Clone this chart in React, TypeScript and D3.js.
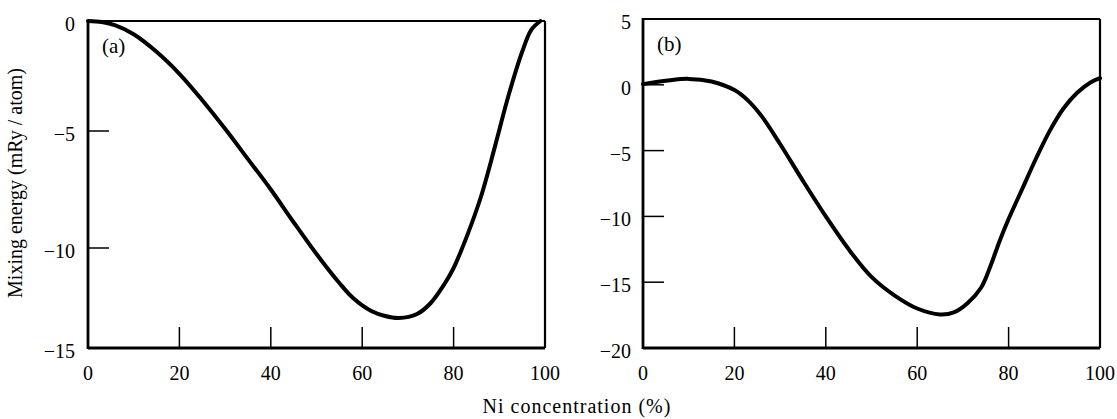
import React from "react";
import * as d3 from "d3";

// Panel (a)
const concA = [0, 3, 6, 10, 15, 20, 25, 30, 35, 40, 45, 50, 55, 58, 62, 65, 68, 72, 75, 78, 80, 83, 86, 89, 92, 95, 97, 99];
const energyA = [0, -0.05, -0.2, -0.6, -1.4, -2.4, -3.6, -4.9, -6.2, -7.5, -8.9, -10.3, -11.75, -12.5, -13.15, -13.4, -13.5, -13.3, -12.75, -11.8, -11.0, -9.45, -7.8, -5.7, -3.4, -1.4, -0.4, 0];

// Panel (b)
const concB = [0, 5, 10, 15, 20, 23, 26, 30, 35, 40, 45, 50, 55, 60, 65, 68, 71, 74, 76, 78, 80, 83, 86, 89, 92, 95, 98, 100];
const energyB = [0.05, 0.3, 0.45, 0.25, -0.4, -1.2, -2.4, -4.5, -7.3, -10.0, -12.5, -14.6, -16.0, -17.0, -17.45, -17.3, -16.6, -15.4, -13.8, -11.9, -10.2, -7.9, -5.6, -3.5, -1.8, -0.6, 0.2, 0.5];

const xTicks = [0, 20, 40, 60, 80, 100];
const yTicksA = [0, -5, -10, -15];
const yTicksB = [5, 0, -5, -10, -15, -20];

const FONT = "'Liberation Serif', 'Times New Roman', serif";

type PanelProps = {
  xs: number[];
  ys: number[];
  x0: number;
  x1: number;
  yScale: d3.ScaleLinear<number, number>;
  yTicks: number[];
  innerYTicks: number[];
  label: string;
  labelX: number;
  labelY: number;
  labelGap: number;
};

function Panel({ xs, ys, x0, x1, yScale, yTicks, innerYTicks, label, labelX, labelY, labelGap }: PanelProps) {
  const x = d3.scaleLinear().domain([0, 100]).range([x0, x1]);
  const dom = yScale.domain();
  const yBottom = yScale(dom[0]);
  const yTop = yScale(dom[dom.length - 1]);
  const pts: [number, number][] = xs.map((v, i) => [v, ys[i]]);
  const line = d3
    .line<[number, number]>()
    .x((d) => x(d[0]))
    .y((d) => yScale(d[1]))
    .curve(d3.curveCatmullRom.alpha(0.5));
  const tickLen = 21;
  return (
    <g>
      <line x1={x0} x2={x1} y1={yTop} y2={yTop} stroke="#000" strokeWidth={2.2} />
      <line x1={x1} x2={x1} y1={yTop} y2={yBottom} stroke="#000" strokeWidth={2.2} />
      <line x1={x0} x2={x1} y1={yBottom} y2={yBottom} stroke="#000" strokeWidth={2.8} />
      <line x1={x0} x2={x0} y1={yTop - 1} y2={yBottom + 1} stroke="#000" strokeWidth={2.8} />
      {xTicks.filter((t) => t > 0 && t < 100).map((t) => (
        <line key={"xt" + t} x1={x(t)} x2={x(t)} y1={yBottom} y2={yBottom - tickLen} stroke="#000" strokeWidth={1.5} />
      ))}
      {innerYTicks.map((t) => (
        <line key={"yt" + t} x1={x0} x2={x0 + tickLen} y1={yScale(t)} y2={yScale(t)} stroke="#000" strokeWidth={1.5} />
      ))}
      {xTicks.map((t) => (
        <text key={"xl" + t} x={x(t)} y={380} textAnchor="middle" fontFamily={FONT} fontSize={20} fill="#000">
          {t}
        </text>
      ))}
      {yTicks.map((t) => (
        <text key={"yl" + t} x={x0 - labelGap} y={yScale(t) + 10} textAnchor="end" fontFamily={FONT} fontSize={20} fill="#000">
          {t < 0 ? "\u2212" + Math.abs(t) : String(t)}
        </text>
      ))}
      <path d={line(pts) || ""} fill="none" stroke="#000" strokeWidth={4} strokeLinejoin="round" strokeLinecap="round" />
      <text x={labelX} y={labelY} fontFamily={FONT} fontSize={21} fill="#000">
        {label}
      </text>
    </g>
  );
}

export default function App() {
  const yA = d3.scaleLinear().domain([-15, -10, -5, 0]).range([348, 248, 131, 21]);
  const yB = d3.scaleLinear().domain([-20, 5]).range([348, 19]);
  return (
    <svg width={1117} height={419} style={{ position: "absolute", left: 0, top: 0, background: "#fff" }}>
      <rect x={0} y={0} width={1117} height={419} fill="#fff" />
      <Panel xs={concA} ys={energyA} x0={88} x1={545} yScale={yA} yTicks={yTicksA} innerYTicks={[-5, -10]} label="(a)" labelX={102} labelY={53} labelGap={13} />
      <Panel xs={concB} ys={energyB} x0={643} x1={1100} yScale={yB} yTicks={yTicksB} innerYTicks={[0, -5, -10, -15]} label="(b)" labelX={657} labelY={51} labelGap={12} />
      <text transform="translate(22,183) rotate(-90)" textAnchor="middle" fontFamily={FONT} fontSize={20} fill="#000">
        Mixing energy (mRy / atom)
      </text>
      <text x={577} y={413} textAnchor="middle" fontFamily={FONT} fontSize={20} letterSpacing={1} fill="#000">
        Ni concentration (%)
      </text>
    </svg>
  );
}
